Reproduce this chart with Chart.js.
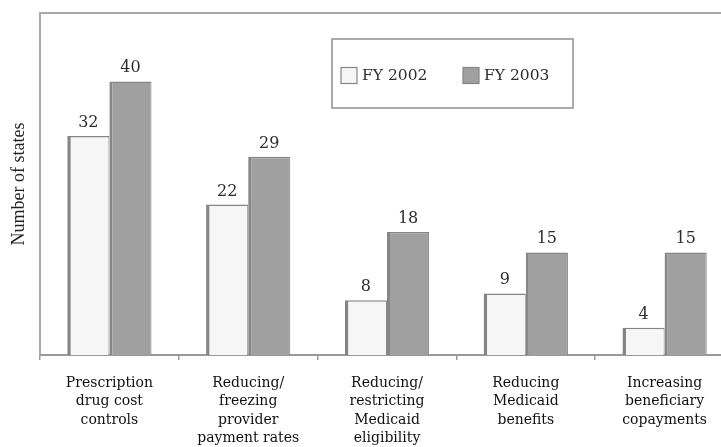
<!DOCTYPE html>
<html>
<head>
<meta charset="utf-8">
<script src="https://cdn.jsdelivr.net/npm/chart.js@4/dist/chart.umd.min.js"></script>
<style>
  html, body { margin: 0; padding: 0; background: #fff; overflow: hidden; }
  #wrap { position: relative; width: 721px; height: 447px; overflow: hidden; }
  canvas { display: block; }
</style>
</head>
<body>
<div id="wrap"><canvas id="c" width="740" height="447"></canvas></div>
<script>
// Medicaid cost-containment actions, number of states
const categories = [
  ['Prescription', 'drug cost', 'controls'],
  ['Reducing/', 'freezing', 'provider', 'payment rates'],
  ['Reducing/', 'restricting', 'Medicaid', 'eligibility'],
  ['Reducing', 'Medicaid', 'benefits'],
  ['Increasing', 'beneficiary', 'copayments']
];
const seriesNames = ['FY 2002', 'FY 2003'];
const fy2002 = [32, 22, 8, 9, 4];
const fy2003 = [40, 29, 18, 15, 15];
const yAxisTitle = 'Number of states';

const serif = '"DejaVu Serif", serif';
Chart.defaults.font.family = serif;
Chart.defaults.color = '#222';

// Outline around the plot area (left and top edges; bottom is the x axis)
const framePlugin = {
  id: 'frame',
  beforeDatasetsDraw(chart) {
    const { ctx, chartArea: a } = chart;
    ctx.save();
    ctx.strokeStyle = '#a9a9a9';
    ctx.lineWidth = 2;
    ctx.beginPath();
    ctx.moveTo(a.left, a.bottom);
    ctx.lineTo(a.left, a.top);
    ctx.lineTo(a.right + 20, a.top);
    ctx.stroke();
    ctx.restore();
  }
};

// Value printed above every bar
const valueLabels = {
  id: 'valueLabels',
  afterDatasetsDraw(chart) {
    const { ctx } = chart;
    ctx.save();
    ctx.font = '16px ' + serif;
    ctx.fillStyle = '#2e2e2e';
    ctx.textAlign = 'center';
    ctx.textBaseline = 'alphabetic';
    chart.data.datasets.forEach((ds, i) => {
      chart.getDatasetMeta(i).data.forEach((bar, j) => {
        ctx.fillText(String(ds.data[j]), bar.x, bar.y - 9);
      });
    });
    ctx.restore();
  }
};

// Boxed legend sitting inside the plot area
const boxedLegend = {
  id: 'boxedLegend',
  afterDraw(chart) {
    const { ctx, chartArea: a } = chart;
    const x0 = a.left + 292, y0 = a.top + 26, w = 241, h = 69;
    ctx.save();
    ctx.fillStyle = '#fff';
    ctx.fillRect(x0, y0, w, h);
    ctx.strokeStyle = '#8f8f8f';
    ctx.lineWidth = 1.5;
    ctx.strokeRect(x0, y0, w, h);
    ctx.font = '15.5px ' + serif;
    ctx.textBaseline = 'middle';
    ctx.textAlign = 'left';
    const cy = y0 + h / 2 + 2;
    const offsets = [9, 131];
    chart.data.datasets.forEach((ds, i) => {
      const sx = x0 + offsets[i];
      ctx.fillStyle = ds.backgroundColor;
      ctx.fillRect(sx, cy - 8, 16, 16);
      ctx.strokeStyle = ds.borderColor;
      ctx.lineWidth = 1.2;
      ctx.strokeRect(sx, cy - 8, 16, 16);
      ctx.fillStyle = '#2e2e2e';
      ctx.fillText(ds.label, sx + 21, cy);
    });
    ctx.restore();
  }
};

new Chart(document.getElementById('c'), {
  type: 'bar',
  data: {
    labels: categories,
    datasets: [
      {
        label: seriesNames[0],
        data: fy2002,
        backgroundColor: '#f6f6f6',
        borderColor: '#858585',
        borderWidth: { left: 3.5, top: 1.5, right: 1, bottom: 0 },
        borderSkipped: false
      },
      {
        label: seriesNames[1],
        data: fy2003,
        backgroundColor: '#a0a0a0',
        borderColor: '#868686',
        borderWidth: { left: 3, top: 1.5, right: 1, bottom: 0 },
        borderSkipped: false
      }
    ]
  },
  options: {
    responsive: false,
    animation: false,
    devicePixelRatio: 1,
    layout: { padding: { left: 0, right: 6, top: 13, bottom: 0 } },
    datasets: { bar: { categoryPercentage: 0.607, barPercentage: 1 } },
    plugins: { legend: { display: false }, tooltip: { enabled: false } },
    scales: {
      x: {
        grid: { offset: true, drawOnChartArea: false, tickLength: 5, color: '#9a9a9a', lineWidth: 1.5 },
        border: { display: true, color: '#9a9a9a', width: 2 },
        ticks: {
          font: { size: 14, family: serif, lineHeight: 1.32 },
          color: '#111',
          padding: 14,
          maxRotation: 0,
          autoSkip: false
        },
        afterFit(scale) { scale.height = 92; }
      },
      y: {
        min: 0,
        max: 50,
        grid: { display: false },
        border: { display: false },
        ticks: { display: false },
        title: {
          display: true,
          text: yAxisTitle,
          font: { size: 18, family: '"Liberation Serif", serif' },
          color: '#222',
          padding: { top: 8, bottom: 0 }
        },
        afterFit(scale) { scale.width = 40; }
      }
    }
  },
  plugins: [framePlugin, valueLabels, boxedLegend]
});
</script>
</body>
</html>
